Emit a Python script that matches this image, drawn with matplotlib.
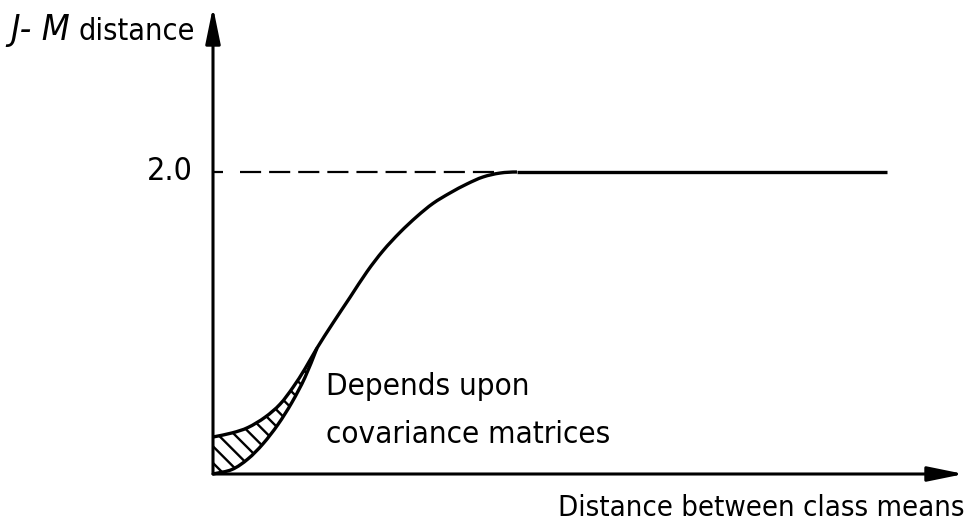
import numpy as np
import matplotlib
matplotlib.use("Agg")
import matplotlib.pyplot as plt
from matplotlib.path import Path
from matplotlib.patches import PathPatch

# Jeffries-Matusita distance versus separation of class means
jm_max = 2.0

# shared rising branch up to the saturation level
main_x = [1.543, 1.780, 2.033, 2.285, 2.522, 2.774, 3.027, 3.264, 3.516, 3.769, 4.006, 4.258, 4.510]
main_y = [0.834, 1.000, 1.170, 1.340, 1.478, 1.600, 1.706, 1.792, 1.861, 1.921, 1.967, 1.993, 2.000]
plateau_end = 10.0

# near the origin the value depends on the covariance matrices
upper_x = [0.0, 0.282, 0.519, 0.772, 0.994, 1.187, 1.365]
upper_y = [0.245, 0.272, 0.308, 0.376, 0.462, 0.574, 0.697]
lower_x = [0.0, 0.282, 0.519, 0.742, 0.964, 1.172, 1.365, 1.543]
lower_y = [0.0, 0.030, 0.100, 0.200, 0.328, 0.475, 0.640, 0.834]

y_label_sym = "J- M"
y_label_word = "distance"
x_label = "Distance between class means"
level_label = "2.0"
note_lines = ["Depends upon", "covariance matrices"]

W, H = 969, 529
# data units -> pixels: origin at (213, 474), 67.4 px per x unit, 151 px per y unit
X0, Y0, SX, SY = 213.0, 474.0, 67.4, 151.0
LW = 2.4

plt.rcParams["hatch.linewidth"] = 1.7

fig = plt.figure(figsize=(W / 100, H / 100), dpi=100)
ax = fig.add_axes([0, 0, 1, 1])
ax.set_xlim(-X0 / SX, (W - X0) / SX)
ax.set_ylim((Y0 - H) / SY, Y0 / SY)
ax.axis("off")


def smooth_path(xs, ys, end_tangent=None):
    """Catmull-Rom curve through the points, as cubic Bezier segments."""
    p = np.column_stack([xs, ys]).astype(float)
    n = len(p)
    verts = [p[0]]
    codes = [Path.MOVETO]
    for i in range(n - 1):
        if i > 0:
            t0 = (p[i + 1] - p[i - 1]) / 6
        else:
            t0 = (p[i + 1] - p[i]) / 3
        if i + 2 < n:
            t1 = (p[i + 2] - p[i]) / 6
        elif end_tangent is not None:
            t1 = np.asarray(end_tangent, float)
        else:
            t1 = (p[i + 1] - p[i]) / 3
        verts += [p[i] + t0, p[i + 1] - t1, p[i + 1]]
        codes += [Path.CURVE4] * 3
    return np.array(verts), codes


def fx(px):
    return px / W


def fy(py):
    return 1 - py / H


# axes with arrow heads
arrow = dict(arrowstyle="-|>,head_length=2.2,head_width=0.45", lw=2.2,
             color="black", shrinkA=0, shrinkB=0, mutation_scale=10)
ax.annotate("", xy=((964 - X0) / SX, 0), xytext=(0, 0), arrowprops=arrow)
ax.annotate("", xy=(0, (Y0 - 7) / SY), xytext=(0, 0), arrowprops=arrow)

# level tick and dashed asymptote
ax.plot([0, 0.15], [jm_max, jm_max], color="black", lw=1.6, solid_capstyle="butt")
ax.plot([0.40, 4.2], [jm_max, jm_max], color="black", lw=1.6,
        dashes=(9.5, 3.6), dash_capstyle="butt")

# upper branch runs on into the shared rise; lower branch meets it there
up_v, up_c = smooth_path(upper_x + main_x, upper_y + main_y, end_tangent=(0.08, 0.0))
lo_v, lo_c = smooth_path(lower_x, lower_y)

# hatched band between the two branches
band_up_v, band_up_c = smooth_path(upper_x + main_x[:1], upper_y + main_y[:1])
band_v = np.vstack([band_up_v, lo_v[::-1], band_up_v[:1]])
band_c = band_up_c + [Path.LINETO] + [Path.CURVE4] * (len(lo_v) - 1) + [Path.CLOSEPOLY]
ax.add_patch(PathPatch(Path(band_v, band_c), facecolor="none", edgecolor="black",
                       hatch="\\\\", linewidth=0))

ax.add_patch(PathPatch(Path(up_v, up_c), facecolor="none", edgecolor="black",
                       lw=LW, capstyle="butt"))
ax.add_patch(PathPatch(Path(lo_v, lo_c), facecolor="none", edgecolor="black", lw=LW))
ax.plot([main_x[-1], plateau_end], [main_y[-1], jm_max], color="black", lw=LW,
        solid_capstyle="butt")

# labels
fam = ["DejaVu Sans"]
txt = dict(family=fam, fontstretch="condensed")
fig.text(fx(10), fy(40), y_label_sym, style="italic", fontsize=26,
         ha="left", va="baseline", **txt)
fig.text(fx(79), fy(40), y_label_word, fontsize=22, ha="left", va="baseline", **txt)
fig.text(fx(193), fy(172), level_label, fontsize=23, ha="right", va="center", **txt)
fig.text(fx(965), fy(516), x_label, fontsize=21, ha="right", va="baseline", **txt)
fig.text(fx(326), fy(395), note_lines[0], fontsize=22.5, ha="left", va="baseline", **txt)
fig.text(fx(326), fy(443), note_lines[1], fontsize=22.5, ha="left", va="baseline", **txt)

fig.savefig("out.png", dpi=100, facecolor="white")
